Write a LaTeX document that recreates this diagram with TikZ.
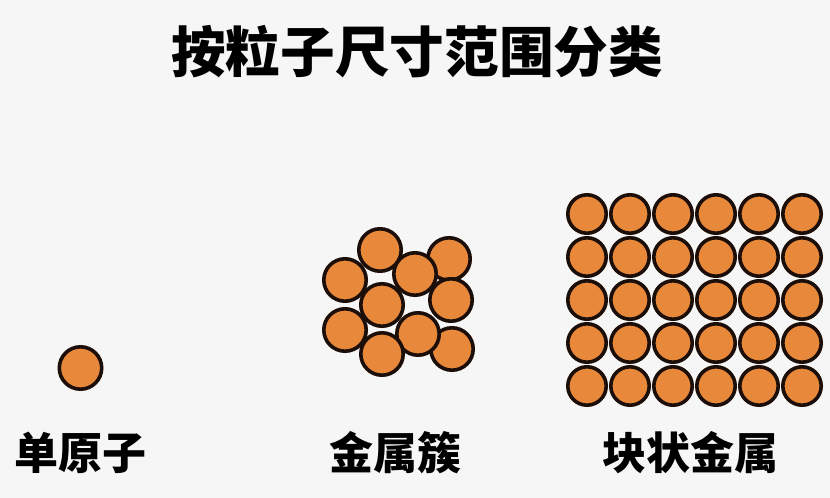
\documentclass[tikz,border=0pt]{standalone}
\usepackage{fontspec}
\newfontfamily\cjk{Noto Sans CJK SC}
\definecolor{bg}{RGB}{246,246,246}
\definecolor{atomfill}{RGB}{232,136,58}
\definecolor{atomline}{RGB}{28,14,8}
\tikzset{
  atom/.style={circle, draw=atomline, fill=atomfill, line width=2.7pt, inner sep=0pt, minimum size=#1},
  atom/.default=31.8pt,
  label/.style={font=\cjk\bfseries\fontsize{33}{33}\selectfont, text=black}
}
\begin{document}
\begin{tikzpicture}[x=0.75pt, y=-0.75pt]
      % Background
      \fill[bg] (0,0) rectangle (830,498);
      \useasboundingbox (0,0) rectangle (830,498);

      % Title
      \node[font=\cjk\bfseries\fontsize{41}{41}\selectfont] (title) at (417,52) {按粒子尺寸范围分类};

      % Single atom
      \node[atom] (single) at (80.5,368) {};

      % Cluster
      \node[atom] (c1) at (380,250) {};
      \node[atom] (c2) at (449,259) {};
      \node[atom] (c3) at (345,280) {};
      \node[atom] (c4) at (415,274) {};
      \node[atom] (c6) at (451,300) {};
      \node[atom] (c5) at (382,305) {};
      \node[atom] (c7) at (345,330) {};
      \node[atom] (c10) at (452,349) {};
      \node[atom] (c8) at (418,334) {};
      \node[atom] (c9) at (382,354) {};

      % Bulk metal
      \foreach \i in {0,...,5}
        \foreach \j in {0,...,4}
          \node[atom=28.8pt] (b\i\j) at (587+43*\i, 214+43*\j) {};

      % Labels
      \node[label] (lsingle) at (80,453) {单原子};
      \node[label] (lcluster) at (395,453) {金属簇};
      \node[label] (lbulk) at (690,453) {块状金属};
\end{tikzpicture}
\end{document}
